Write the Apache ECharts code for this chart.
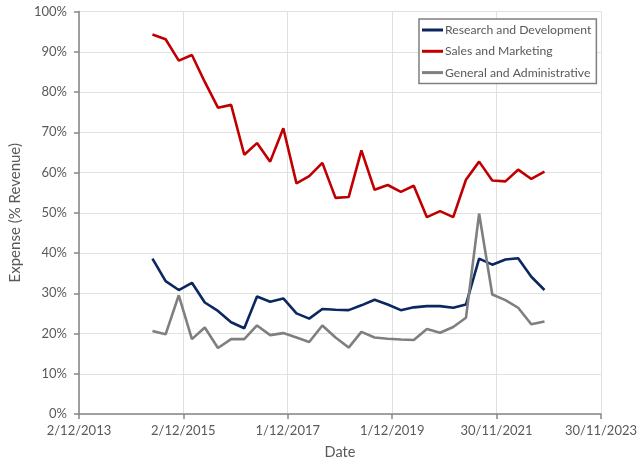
<!DOCTYPE html>
<html>
<head>
<meta charset="utf-8">
<script src="https://cdn.jsdelivr.net/npm/echarts@6/dist/echarts.min.js"></script>
<style>
html,body{margin:0;padding:0;background:#fff;}
#chart{width:640px;height:465px;}
</style>
</head>
<body>
<div id="chart"></div>
<script>
// Quarter-end dates of each observation
const dates = [
  '2015-04-30','2015-07-31','2015-10-31',
  '2016-01-31','2016-04-30','2016-07-31','2016-10-31',
  '2017-01-31','2017-04-30','2017-07-31','2017-10-31',
  '2018-01-31','2018-04-30','2018-07-31','2018-10-31',
  '2019-01-31','2019-04-30','2019-07-31','2019-10-31',
  '2020-01-31','2020-04-30','2020-07-31','2020-10-31',
  '2021-01-31','2021-04-30','2021-07-31','2021-10-31',
  '2022-01-31','2022-04-30','2022-07-31','2022-10-31'
];
// Expense as % of revenue
const researchDev = [38.6, 33.0, 30.8, 32.6, 27.7, 25.6, 22.8, 21.3, 29.2, 27.9, 28.7, 25.0, 23.7, 26.1, 25.9, 25.8, 27.0, 28.4, 27.2, 25.8, 26.5, 26.8, 26.8, 26.4, 27.2, 38.6, 37.1, 38.4, 38.7, 34.1, 30.8];
const salesMarketing = [94.3, 93.1, 87.8, 89.2, 82.5, 76.1, 76.8, 64.4, 67.3, 62.7, 71.0, 57.3, 59.1, 62.4, 53.7, 53.9, 65.5, 55.7, 56.9, 55.2, 56.7, 48.9, 50.4, 48.9, 58.2, 62.7, 58.0, 57.8, 60.7, 58.4, 60.2];
const generalAdmin = [20.6, 19.8, 29.5, 18.6, 21.5, 16.4, 18.6, 18.6, 22.0, 19.6, 20.1, 19.0, 17.9, 22.0, 19.0, 16.5, 20.4, 19.0, 18.7, 18.5, 18.4, 21.1, 20.2, 21.6, 23.9, 49.8, 29.7, 28.3, 26.4, 22.3, 23.0];
const seriesNames = ['Research and Development', 'Sales and Marketing', 'General and Administrative'];
// x-axis tick labels (every 730 days starting 2/12/2013)
const xTickLabels = ['2/12/2013', '2/12/2015', '1/12/2017', '1/12/2019', '30/11/2021', '30/11/2023'];
const xMinDate = '2013-12-02';
const xMaxDate = '2023-11-30';
const xStepDays = 730;

function serial(s) {
  const p = s.split('-').map(Number);
  return Math.round((Date.UTC(p[0], p[1] - 1, p[2]) - Date.UTC(1899, 11, 30)) / 86400000);
}
const xMin = serial(xMinDate);
const xMax = serial(xMaxDate);
const xs = dates.map(serial);
const pair = arr => arr.map((v, i) => [xs[i], v]);

const FONT = 'Lato, "Liberation Sans", sans-serif';
const labelColor = '#595959';
const axisColor = '#868686';
const gridColor = '#e0e0e0';

const chart = echarts.init(document.getElementById('chart'), null, {renderer: 'canvas'});
chart.setOption({
  animation: false,
  backgroundColor: '#fff',
  grid: {left: 73.5, right: 38, top: 11.5, bottom: 50, containLabel: false},
  legend: {
    orient: 'vertical',
    left: 419, top: 19,
    padding: [4, 5, 4, 3],
    itemGap: 7.3,
    itemWidth: 21, itemHeight: 3,
    icon: 'rect',
    borderColor: '#7f7f7f', borderWidth: 1.5,
    backgroundColor: '#fff',
    textStyle: {fontFamily: FONT, fontSize: 12.2, color: labelColor, lineHeight: 14, padding: [0, 0, 0, -3]},
    data: seriesNames
  },
  xAxis: {
    type: 'value',
    min: xMin, max: xMax, interval: xStepDays,
    name: 'Date', nameLocation: 'middle', nameGap: 31,
    nameTextStyle: {fontFamily: FONT, fontSize: 14.5, color: labelColor},
    axisLine: {show: true, lineStyle: {color: axisColor, width: 1.5}},
    axisTick: {show: true, length: 5, inside: false, lineStyle: {color: axisColor, width: 1.5}},
    axisLabel: {
      margin: 10, fontFamily: FONT, fontSize: 13, color: labelColor,
      showMinLabel: true, showMaxLabel: true,
      formatter: v => xTickLabels[Math.round((v - xMin) / xStepDays)] || ''
    },
    splitLine: {show: true, lineStyle: {color: gridColor, width: 1}}
  },
  yAxis: {
    type: 'value',
    min: 0, max: 100, interval: 10,
    name: 'Expense (% Revenue)', nameLocation: 'middle', nameGap: 54,
    nameTextStyle: {fontFamily: FONT, fontSize: 15, color: labelColor},
    axisLine: {show: true, lineStyle: {color: axisColor, width: 1.5}},
    axisTick: {show: true, length: 5, inside: false, lineStyle: {color: axisColor, width: 1.5}},
    axisLabel: {margin: 12, fontFamily: FONT, fontSize: 13, color: labelColor, formatter: '{value}%'},
    splitLine: {show: true, lineStyle: {color: gridColor, width: 1}}
  },
  series: [
    {name: seriesNames[0], type: 'line', data: pair(researchDev), showSymbol: false, symbol: 'none',
     lineStyle: {color: '#0b2760', width: 2.6}, itemStyle: {color: '#0b2760'}},
    {name: seriesNames[1], type: 'line', data: pair(salesMarketing), showSymbol: false, symbol: 'none',
     lineStyle: {color: '#c00000', width: 2.6}, itemStyle: {color: '#c00000'}},
    {name: seriesNames[2], type: 'line', data: pair(generalAdmin), showSymbol: false, symbol: 'none',
     lineStyle: {color: '#7f7f7f', width: 2.6}, itemStyle: {color: '#7f7f7f'}}
  ]
});
</script>
</body>
</html>
